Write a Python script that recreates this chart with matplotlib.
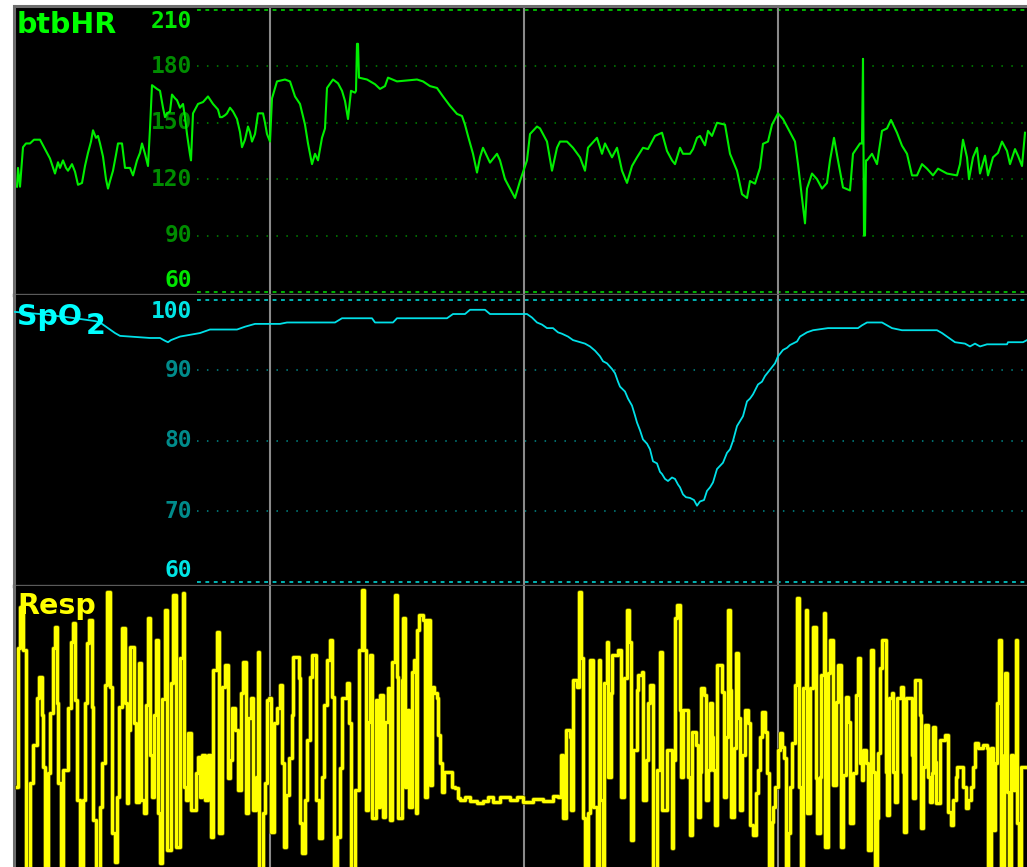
import matplotlib
matplotlib.use("Agg")
import matplotlib.pyplot as plt
import matplotlib.patheffects as pe

# time axis is in display samples (one per pixel column of the monitor strip)
hr_t = [17, 18, 20, 23, 26, 30, 34, 40, 45, 50, 55, 58, 60, 63, 66, 68, 72, 75, 78, 82,
        85, 88, 91, 93, 96, 98, 100, 103, 106, 108, 110, 113, 116, 118, 122, 125, 130, 133, 137, 140,
        142, 145, 148, 150, 152, 157, 160, 163, 165, 167, 170, 172, 175, 177, 180, 183, 185, 187, 190, 191,
        193, 198, 203, 208, 213, 218, 220, 222, 225, 227, 230, 233, 237, 240, 242, 245, 248, 250, 252, 255,
        258, 263, 265, 267, 270, 272, 277, 285, 290, 295, 300, 305, 308, 312, 315, 318, 322, 325, 327, 333,
        338, 342, 345, 348, 351, 355, 356, 357, 358, 359, 367, 375, 380, 385, 388, 397, 417, 423, 430, 437,
        443, 450, 457, 462, 465, 468, 473, 477, 480, 483, 490, 497, 500, 505, 510, 515, 520, 527, 530, 537,
        540, 547, 552, 557, 560, 567, 573, 580, 585, 588, 597, 602, 605, 612, 617, 622, 627, 632, 637, 643,
        648, 655, 662, 667, 672, 675, 680, 683, 690, 693, 697, 700, 705, 708, 712, 717, 725, 730, 737, 742,
        747, 750, 755, 760, 763, 768, 772, 778, 783, 788, 795, 798, 802, 805, 807, 812, 817, 822, 827, 830,
        834, 838, 843, 850, 853, 860, 862, 863, 864, 865, 866, 867, 872, 877, 882, 887, 891, 897, 902, 907,
        912, 917, 922, 927, 933, 938, 947, 957, 960, 963, 967, 969, 973, 977, 980, 985, 988, 993, 998, 1002,
        1007, 1010, 1015, 1018, 1022, 1025]
hr_v = [116, 126, 116, 137, 139, 139, 141, 141, 136, 131, 123, 129, 126, 130, 126, 124.5, 128, 124, 117, 118,
        127, 134, 140, 146, 142, 143, 139, 132, 120, 115, 119, 124.5, 133, 139, 139, 126, 126, 122, 130, 134,
        139, 133.5, 127, 147, 170, 168, 167, 158, 153, 155, 156, 165, 163, 162, 158, 160, 153, 144, 133, 130,
        155, 160, 161, 164, 160, 157, 153, 153, 154, 155, 158, 156, 152, 145, 137, 141, 148, 145, 140, 144,
        155, 155, 150, 144, 140, 163, 172, 173, 172, 164, 160, 149, 139, 128, 133.5, 130, 142, 147, 168.5, 173,
        171, 167, 161.6, 152, 167, 166, 167, 192, 192, 174, 173, 170.5, 168, 169.5, 174, 172, 173, 172, 169.5, 168.5,
        164, 159, 154.7, 153.6, 149, 143, 133.5, 123.5, 131.6, 136.7, 128.8, 133.5, 130, 120, 115, 110, 119, 130, 144, 148,
        147, 140, 124.5, 136.7, 140, 140, 136.7, 131.6, 124.5, 136.7, 142, 133.5, 139, 131.6, 136.7, 124.5, 118, 127, 131.6, 136.7,
        136, 143, 144.7, 135, 130, 128, 136.7, 133.5, 133.5, 136, 142, 143, 138, 145.7, 143, 150, 149, 133.5, 124.5, 112,
        110, 119, 117.6, 126, 138.8, 140, 149, 155, 152, 147, 140, 128, 110, 96.5, 115, 123, 120, 115, 118, 130,
        142, 130, 115.6, 114, 133.5, 139, 139, 184, 90, 90, 130, 130, 133.5, 128, 145.7, 147, 151.5, 144.7, 137.8, 133.5,
        122, 122, 128, 125.6, 122, 125.6, 123, 122, 128, 141, 131.6, 120, 131.6, 136.7, 123, 132.5, 122, 131.6, 134, 140,
        135, 128, 136, 132.5, 127, 144.7]

spo2_t = [15, 40, 70, 95, 100, 105, 110, 115, 120, 150, 160, 165, 168, 171, 180, 200, 210, 237, 245, 255,
          280, 287, 335, 342, 372, 375, 393, 397, 447, 453, 465, 470, 485, 490, 527, 532, 537, 542, 547, 553,
          558, 562, 568, 573, 580, 585, 590, 595, 600, 603, 607, 612, 615, 618, 620, 625, 628, 632, 635, 637,
          640, 643, 647, 650, 653, 657, 660, 662, 665, 668, 672, 675, 678, 680, 683, 686, 690, 694, 697, 700,
          704, 707, 710, 713, 717, 723, 727, 730, 733, 737, 740, 743, 747, 750, 753, 758, 762, 765, 770, 775,
          778, 783, 787, 790, 797, 800, 807, 813, 828, 858, 862, 867, 882, 887, 892, 902, 937, 942, 947, 955,
          965, 970, 975, 980, 987, 1007, 1008, 1023, 1027]
spo2_v = [98.3, 98.0, 97.5, 97.0, 96.8, 96.3, 95.8, 95.3, 94.9, 94.6, 94.6, 94.2, 94.0, 94.3, 94.8, 95.3, 95.8, 95.8, 96.2, 96.6,
          96.6, 96.8, 96.8, 97.4, 97.4, 96.8, 96.8, 97.4, 97.4, 98.0, 98.0, 98.6, 98.6, 98.0, 98.0, 97.5, 96.8, 96.5, 96.0, 96.0,
          95.4, 95.2, 94.8, 94.3, 94.0, 93.8, 93.4, 92.8, 92.0, 91.3, 91.0, 90.2, 89.6, 88.4, 87.7, 87.0, 86.0, 85.0, 83.6, 82.6,
          81.5, 80.2, 79.6, 78.8, 77.1, 76.8, 75.6, 75.3, 74.6, 74.3, 74.8, 74.6, 73.8, 73.4, 72.4, 72.0, 71.9, 71.6, 70.8, 71.4,
          71.6, 72.9, 73.4, 74.1, 76.0, 76.9, 78.3, 78.8, 80.0, 82.1, 82.8, 83.5, 85.6, 86.0, 86.6, 88.0, 88.4, 89.2, 90.1, 91.0,
          92.0, 92.9, 93.2, 93.6, 94.1, 94.8, 95.4, 95.7, 96.0, 96.0, 96.4, 96.8, 96.8, 96.4, 96.0, 95.7, 95.7, 95.3, 94.8, 94.0,
          93.8, 93.4, 93.8, 93.4, 93.7, 93.7, 94.0, 94.0, 94.3]

# respiration, arbitrary units; negative values run off the bottom of the strip
resp_t = [17, 17.5, 20, 23, 26, 30, 33, 37, 39, 42, 43.5, 45, 48, 50, 53, 55, 57, 58.5, 61, 63,
          68, 71, 73, 75, 77, 80, 83, 85, 87, 89, 92, 93.5, 96, 100, 102, 105, 107, 110, 112, 115,
          117, 119, 122, 125, 127, 128, 130, 134, 136, 139, 141, 144, 146, 148, 150, 152, 154, 156, 158, 160,
          162, 165, 167, 171, 173, 176, 180, 183, 184.5, 186, 188, 191, 196, 198, 200, 202, 205, 208, 211, 213,
          217, 219, 222, 225, 228, 230, 232, 235, 238, 241, 243, 246, 248, 251, 253, 256, 258, 259.5, 263, 265,
          267, 269, 271, 274, 277, 280, 282, 284, 286, 289, 292, 293, 299, 300.5, 302, 305, 307, 310, 312, 316,
          319, 322, 324, 327, 330, 332, 334, 337, 340, 342, 347, 349, 351.5, 355, 359, 362, 364, 366, 368, 370,
          372, 376, 378, 380, 383, 385, 388, 390, 392, 395, 397, 398, 402, 403, 405, 407, 409, 412, 414, 416,
          417, 419, 423, 425, 427, 430, 432, 434, 437, 438, 440, 442, 444, 450, 452, 455, 458, 460, 465, 470,
          477, 483, 488, 493, 500, 510, 517, 523, 533, 543, 553, 558, 561.5, 563, 566.5, 570, 571.5, 573, 577, 579,
          581, 583, 585, 588, 590.5, 593, 597, 599, 600, 603, 604.5, 607, 608.5, 611, 612, 618, 621.5, 624, 627, 629,
          631, 633, 637, 638, 642, 643.5, 646, 648, 650, 653, 657, 660, 662, 667, 670, 672, 673, 675, 677.5, 680,
          681.5, 683, 687, 688.5, 690, 692.5, 696, 698, 700, 701.5, 704, 706, 708, 710.5, 712, 713, 715, 717, 721, 722,
          724, 726, 728, 730, 731.5, 734, 736, 738, 740, 742, 745, 748, 750, 753, 756, 758, 760, 762.5, 765, 767,
          769, 772, 773, 775, 778, 780, 782, 784, 786, 788, 790, 792.5, 795, 797, 799, 801.5, 803, 806, 807.5, 810,
          813, 816, 817, 820, 821.5, 824, 825.5, 828, 830.5, 833, 836, 838, 841.5, 843, 846.5, 848, 850.5, 853, 856, 858,
          860, 862, 863.5, 866, 868, 871.5, 873, 875, 877, 878, 880, 882, 886, 887.5, 889.5, 892, 893, 895, 897, 901,
          903, 904, 906, 910, 912, 913.5, 915, 919, 920, 921.5, 923, 925, 928, 928.5, 930, 932, 933.5, 935, 936.5, 940,
          945, 948, 951.5, 953, 956, 957.5, 961, 963, 966, 968, 971, 973, 975, 978, 983, 987, 988.5, 991, 993, 995,
          997, 999, 1001.5, 1004, 1005.5, 1007, 1009, 1011, 1013, 1016, 1017.5, 1019, 1021.5, 1027]
resp_v = [80, 219, 260, 217, -15, 84, 122, 169, 190, 152, 100, -15, 94, 154, 219, 240, 164, 84, -15, 97,
          159, 225, 244, 167, 67, -15, 67, 164, 224, 247, 160, 47, -15, 60, 104, 182, 275, 180, 34, 5,
          70, 160, 239, 164, 64, 137, 220, 144, 65, 204, 67, 54, 162, 249, 112, 70, 152, 227, 54, 4,
          168, 257, 17, 184, 272, 20, 209, 274, 80, 67, 134, 57, 94, 110, 70, 112, 67, 112, 30, 197,
          235, 34, 180, 202, 89, 107, 159, 137, 77, 174, 205, 54, 149, 169, 57, 90, 215, -15, 54, 84,
          167, 169, 35, 144, 159, 182, 104, 20, 72, 109, 152, 210, 189, 44, 14, 67, 127, 190, 212, 67,
          29, 90, 162, 207, 227, 170, -15, 30, 99, 169, 184, 144, -15, 77, 217, 277, 217, 57, 145, 212,
          49, 167, 60, 172, 50, 145, 179, 47, 205, 272, 190, 49, 187, 249, 80, 157, 60, 195, 207, 54,
          237, 252, 247, 70, 247, 82, 180, 174, 169, 132, 104, 75, 95, 95, 80, 79, 69, 67, 70, 66,
          64, 66, 70, 65, 70, 67, 70, 65, 68, 66, 71, 70, 112, 49, 137, 130, 57, 187, 180, 275,
          209, 49, -15, 54, 207, 60, -15, 207, 67, -15, 184, 225, 90, 174, 212, 217, 70, 189, 257, 225,
          27, 117, 177, 192, 195, 67, 107, 164, 182, -15, 97, 215, 57, 117, 117, 19, 107, 249, 262, 157,
          90, 157, 157, 90, 32, 135, 122, 50, 95, 179, 172, 67, 97, 164, 130, 97, 42, 202, 202, 175,
          70, 130, 257, 177, 50, 119, 214, 149, 57, 112, 157, 144, 42, 32, 74, 97, 130, 155, 135, 94,
          -15, 45, 60, 80, 117, 134, 120, 109, -15, 34, 80, 124, 182, 269, 80, -15, 179, 257, 54, 179,
          240, 89, 34, 90, 192, 254, 20, 194, 227, 82, 165, 202, 20, 92, 170, 145, 44, 94, 172, 209,
          104, 87, 117, 104, 17, 217, 95, -15, 49, 114, 199, 227, 95, 52, 169, 174, 95, 65, 169, 180,
          95, 35, 169, 169, 112, 69, 187, 187, 152, 39, 100, 142, 142, 90, 65, 94, 140, 105, 64, 127,
          132, 55, 42, 67, 90, 100, 100, 80, 59, 67, 80, 100, 124, 119, 122, 119, -15, 119, 37, 104,
          164, 227, -15, 112, 194, 75, -15, 112, 77, 227, 44, -15, 100, 100]

hr_ticks = [60, 90, 120, 150, 180, 210]
spo2_ticks = [60, 70, 80, 90, 100]
markers = [270, 524, 778]

W, H = 1027, 867
fig = plt.figure(figsize=(W / 100, H / 100), dpi=100, facecolor='white')


def pane(top, bottom):
    ax = fig.add_axes([14 / W, 1 - bottom / H, (W - 14) / W, (bottom - top) / H])
    ax.set_facecolor('black')
    ax.set_xlim(14, 1027)
    ax.set_xticks([])
    ax.set_yticks([])
    for s in ax.spines.values():
        s.set_visible(False)
    ax.spines['left'].set_visible(True)
    ax.spines['left'].set_color('#6e6e6e')
    ax.spines['left'].set_linewidth(2.2)
    return ax


ax1 = pane(6, 295)
ax2 = pane(295, 586)
ax3 = pane(586, 867)
ax1.set_ylim(58.4, 212.1)
ax2.set_ylim(59.4, 100.7)
ax3.set_ylim(0, 281)

ax1.spines['top'].set_visible(True)
ax1.spines['top'].set_color('#6e6e6e')
ax1.spines['top'].set_linewidth(2.2)
for ax in (ax1, ax2):
    ax.spines['bottom'].set_visible(True)
    ax.spines['bottom'].set_color('#5a5a5a')
    ax.spines['bottom'].set_linewidth(2.4)
    ax.spines['bottom'].set_zorder(6)

mono = dict(family='DejaVu Sans Mono', weight='bold')
title = dict(family='DejaVu Sans', weight='bold', fontsize=20.5, zorder=5)


def scale(ax, ticks, bright, dim):
    for i, v in enumerate(ticks):
        edge = i == 0 or i == len(ticks) - 1
        ax.hlines(v, 197, 1027, colors=bright if edge else dim, linewidth=1.1,
                  linestyles=(0, (2.5, 3)) if edge else (0, (1, 5.5)), zorder=1)
        va = 'bottom' if i == 0 else ('top' if i == len(ticks) - 1 else 'center')
        ax.text(192, v, str(v), ha='right', va=va, color=bright if edge else dim,
                fontsize=16.5, zorder=1, **mono)


scale(ax1, hr_ticks, '#00e600', '#008c00')
scale(ax2, spo2_ticks, '#00e5e5', '#008b8b')

for ax in (ax1, ax2, ax3):
    for m in markers:
        ax.axvline(m, color='#8a8a8a', linewidth=1.5, zorder=2)

ax1.plot(hr_t, hr_v, color='#00ee00', linewidth=1.5, zorder=3)
ax2.plot(spo2_t, spo2_v, color='#00e0e8', linewidth=1.3, zorder=3)
ax3.plot(resp_t, resp_v, color='#ffff00', linewidth=2.3, drawstyle='steps-post', zorder=3,
         path_effects=[pe.Stroke(linewidth=3.3, foreground='#5a5a00'), pe.Normal()])

ax1.text(0.003, 0.982, 'btbHR', transform=ax1.transAxes, ha='left', va='top',
         color='#00ff00', **title)
ax2.text(0.003, 0.972, 'SpO', transform=ax2.transAxes, ha='left', va='top',
         color='#00ffff', **title)
ax2.text(0.071, 0.94, '2', transform=ax2.transAxes, ha='left', va='top',
         color='#00ffff', **title)
ax3.text(0.003, 0.978, 'Resp', transform=ax3.transAxes, ha='left', va='top',
         color='#ffff00', **title)

fig.savefig('out.png', dpi=100, facecolor='white')
